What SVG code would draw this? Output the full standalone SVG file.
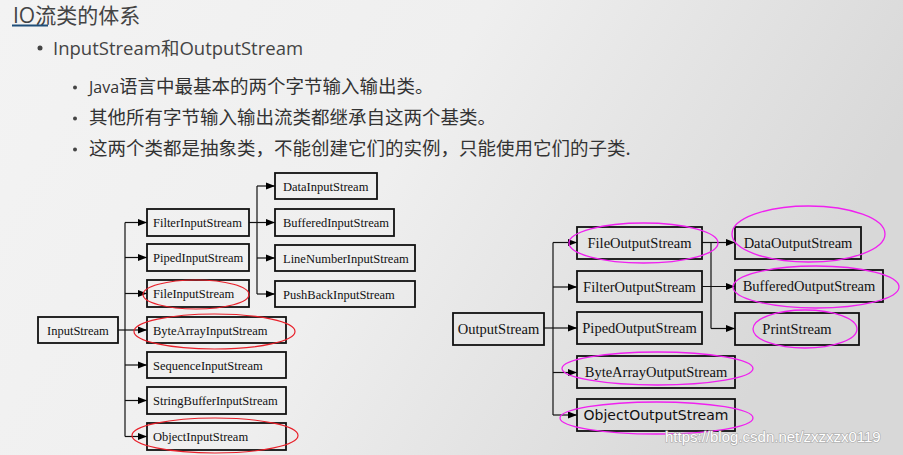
<svg xmlns="http://www.w3.org/2000/svg" width="903" height="455" viewBox="0 0 903 455">
<defs>
<linearGradient id="bg" x1="0" y1="0" x2="1" y2="0.3">
<stop offset="0" stop-color="#f3f3f3"/>
<stop offset="0.5" stop-color="#efefef"/>
<stop offset="1" stop-color="#d8d8d8"/>
</linearGradient>
<marker id="arr" markerUnits="userSpaceOnUse" markerWidth="10" markerHeight="8" refX="9" refY="4" orient="auto">
<path d="M0,0.5 L9,4 L0,7.5 Z" fill="#000"/>
</marker>
<style>
.box{fill:none;stroke:#111;stroke-width:1.8}
.ln{fill:none;stroke:#111;stroke-width:1.2}
.ar{fill:none;stroke:#111;stroke-width:1.2;marker-end:url(#arr)}
.ts{font-family:"Liberation Serif","Times New Roman",serif;font-size:12.5px;fill:#111}
.tr{font-family:"Liberation Serif","Times New Roman",serif;font-size:14.5px;fill:#111;text-anchor:middle}
.red{fill:none;stroke:#e8202a;stroke-width:1.2}
.mag{fill:none;stroke:#f020f0;stroke-width:1.3}
.cj{font-family:"Noto Sans CJK SC","Open Sans",sans-serif;font-size:18.5px;fill:#333}
.dot{fill:#444}
</style>
</defs>
<rect x="0" y="0" width="903" height="455" fill="url(#bg)"/>

<g id="heading">
<text x="13" y="22.5" style="font-family:'Open Sans','Noto Sans CJK SC',sans-serif;font-size:21px;fill:#444">IO<tspan style="font-family:'Noto Sans CJK SC',sans-serif">流类的体系</tspan></text>
<line x1="12" y1="25.5" x2="48" y2="25.5" stroke="#1f4e79" stroke-width="2"/>
<circle class="dot" cx="40" cy="48" r="2.5"/>
<text x="53" y="55" style="font-family:'Open Sans','Noto Sans CJK SC',sans-serif;font-size:18.5px;fill:#444">InputStream<tspan style="font-family:'Noto Sans CJK SC',sans-serif">和</tspan>OutputStream</text>
<circle class="dot" cx="75" cy="87.5" r="2"/>
<text class="cj" x="89" y="93"><tspan style="font-family:'Open Sans',sans-serif;font-size:16px">Java</tspan>语言中最基本的两个字节输入输出类。</text>
<circle class="dot" cx="75" cy="118.5" r="2"/>
<text class="cj" x="89" y="124">其他所有字节输入输出流类都继承自这两个基类。</text>
<circle class="dot" cx="75" cy="149.5" r="2"/>
<text class="cj" x="89" y="155">这两个类都是抽象类，不能创建它们的实例，只能使用它们的子类.</text>
</g>

<g id="connectors">
<line class="ln" x1="118" y1="330" x2="125" y2="330"/>
<line class="ln" x1="125" y1="222.5" x2="125" y2="436.5"/>
<line class="ar" x1="125" y1="222.5" x2="147" y2="222.5"/>
<line class="ar" x1="125" y1="257.5" x2="147" y2="257.5"/>
<line class="ar" x1="125" y1="293.5" x2="147" y2="293.5"/>
<line class="ar" x1="125" y1="330" x2="147" y2="330"/>
<line class="ar" x1="125" y1="365" x2="147" y2="365"/>
<line class="ar" x1="125" y1="400.5" x2="147" y2="400.5"/>
<line class="ar" x1="125" y1="436.5" x2="147" y2="436.5"/>
<line class="ln" x1="249" y1="222.5" x2="257" y2="222.5"/>
<line class="ln" x1="257" y1="186" x2="257" y2="294"/>
<line class="ar" x1="257" y1="186" x2="275" y2="186"/>
<line class="ar" x1="257" y1="222.5" x2="275" y2="222.5"/>
<line class="ar" x1="257" y1="258" x2="275" y2="258"/>
<line class="ar" x1="257" y1="294" x2="275" y2="294"/>

<line class="ln" x1="544" y1="328" x2="553" y2="328"/>
<line class="ln" x1="553" y1="242.5" x2="553" y2="415"/>
<line class="ar" x1="553" y1="242.5" x2="577" y2="242.5"/>
<line class="ar" x1="553" y1="287" x2="577" y2="287"/>
<line class="ar" x1="553" y1="328" x2="577" y2="328"/>
<line class="ar" x1="553" y1="372.5" x2="577" y2="372.5"/>
<line class="ar" x1="553" y1="415" x2="577" y2="415"/>
<line class="ln" x1="702" y1="242.5" x2="711" y2="242.5"/>
<line class="ln" x1="711" y1="242.5" x2="711" y2="328.5"/>
<line class="ar" x1="711" y1="242.5" x2="735" y2="242.5"/>
<line class="ar" x1="702" y1="286.5" x2="735" y2="286.5"/>
<line class="ar" x1="711" y1="328.5" x2="735" y2="328.5"/>
</g>

<g id="InputStream"><rect class="box" x="38" y="317" width="80" height="26"/><text class="ts" x="47" y="334.5">InputStream</text></g>
<g id="FilterInputStream"><rect class="box" x="147" y="209" width="102" height="27"/><text class="ts" x="153" y="227">FilterInputStream</text></g>
<g id="PipedInputStream"><rect class="box" x="147" y="244" width="102" height="27"/><text class="ts" x="153" y="262">PipedInputStream</text></g>
<g id="FileInputStream"><rect class="box" x="147" y="280" width="102" height="27"/><text class="ts" x="153" y="298">FileInputStream</text><ellipse class="red" cx="196" cy="294.5" rx="53" ry="14.5"/></g>
<g id="ByteArrayInputStream"><rect class="box" x="147" y="317" width="139" height="26"/><text class="ts" x="153" y="334.5">ByteArrayInputStream</text><ellipse class="red" cx="214.5" cy="331.5" rx="80.5" ry="17.5"/></g>
<g id="SequenceInputStream"><rect class="box" x="147" y="352" width="139" height="26"/><text class="ts" x="153" y="369.5">SequenceInputStream</text></g>
<g id="StringBufferInputStream"><rect class="box" x="147" y="387" width="139" height="27"/><text class="ts" x="153" y="405">StringBufferInputStream</text></g>
<g id="ObjectInputStream"><rect class="box" x="147" y="423" width="139" height="27"/><text class="ts" x="153" y="441">ObjectInputStream</text><ellipse class="red" cx="215" cy="435.5" rx="83" ry="17.5"/></g>
<g id="DataInputStream"><rect class="box" x="275" y="173" width="102" height="26"/><text class="ts" x="283" y="190.5">DataInputStream</text></g>
<g id="BufferedInputStream"><rect class="box" x="275" y="209" width="119" height="27"/><text class="ts" x="283" y="227">BufferedInputStream</text></g>
<g id="LineNumberInputStream"><rect class="box" x="275" y="245" width="140" height="26"/><text class="ts" x="283" y="262.5">LineNumberInputStream</text></g>
<g id="PushBackInputStream"><rect class="box" x="275" y="281" width="140" height="26"/><text class="ts" x="283" y="298.5">PushBackInputStream</text></g>

<g id="OutputStream"><rect class="box" x="453" y="313" width="91" height="32"/><text class="tr" x="498.5" y="334">OutputStream</text></g>
<g id="FileOutputStream"><rect class="box" x="577" y="227" width="125" height="32"/><text class="tr" x="639.5" y="248">FileOutputStream</text><ellipse class="mag" cx="643.5" cy="243" rx="74.5" ry="20"/></g>
<g id="FilterOutputStream"><rect class="box" x="577" y="271" width="125" height="31"/><text class="tr" x="639.5" y="292">FilterOutputStream</text></g>
<g id="PipedOutputStream"><rect class="box" x="577" y="312" width="125" height="32"/><text class="tr" x="639.5" y="333">PipedOutputStream</text></g>
<g id="ByteArrayOutputStream"><rect class="box" x="577" y="356" width="158" height="32"/><text class="tr" x="656" y="377">ByteArrayOutputStream</text><ellipse class="mag" cx="657.5" cy="368.5" rx="95.5" ry="16.5"/></g>
<g id="ObjectOutputStream"><rect class="box" x="577" y="399" width="158" height="32"/><text x="656" y="420" style="font-family:'DejaVu Sans',sans-serif;font-size:14px;fill:#111;text-anchor:middle">ObjectOutputStream</text><ellipse class="mag" cx="656.5" cy="418" rx="96.5" ry="16"/></g>
<g id="DataOutputStream"><rect class="box" x="735" y="227" width="126" height="32"/><text class="tr" x="798" y="248">DataOutputStream</text><ellipse class="mag" cx="808.5" cy="234" rx="76.5" ry="28"/></g>
<g id="BufferedOutputStream"><rect class="box" x="735" y="270" width="148" height="32"/><text class="tr" x="809" y="291">BufferedOutputStream</text><ellipse class="mag" cx="816" cy="287" rx="83" ry="21"/></g>
<g id="PrintStream"><rect class="box" x="735" y="313" width="124" height="32"/><text class="tr" x="797" y="334">PrintStream</text><ellipse class="mag" cx="805" cy="329" rx="52" ry="19"/></g>

<text x="665" y="442" style="font-family:'Liberation Sans',Arial,sans-serif;font-size:15px;fill:#ffffff;stroke:#a8a8a8;stroke-width:1.2;paint-order:stroke">https://blog.csdn.net/zxzxzx0119</text>
</svg>
